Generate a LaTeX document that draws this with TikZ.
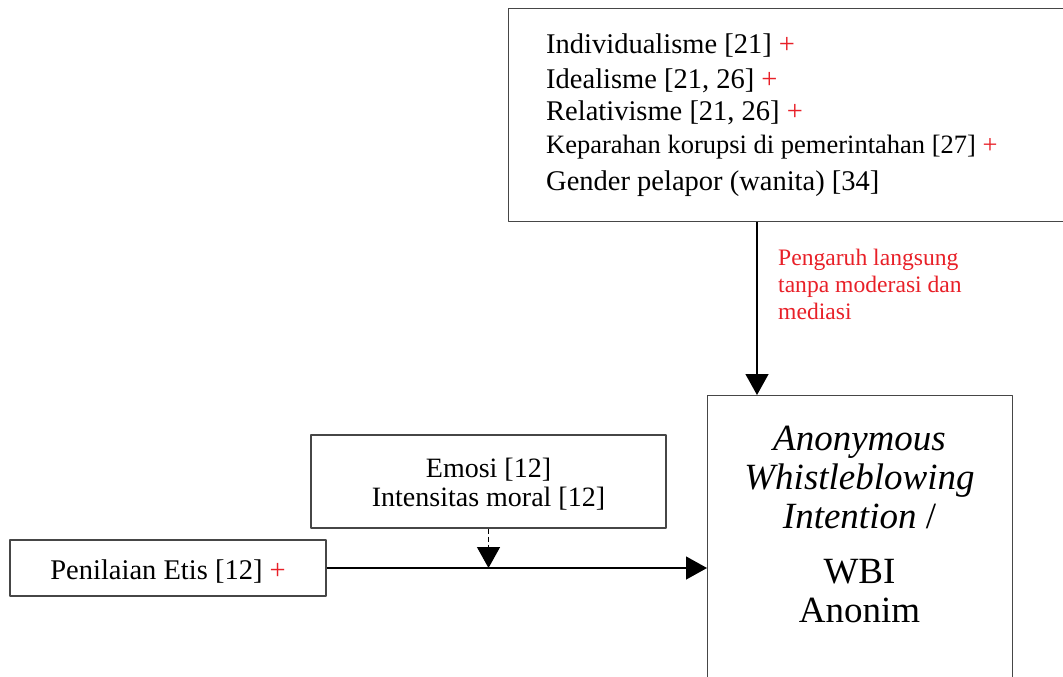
\documentclass[tikz,border=0pt]{standalone}
\usepackage{fontspec}
\setmainfont{Liberation Serif}
\usetikzlibrary{arrows.meta}
\definecolor{plusred}{RGB}{232,32,40}
\definecolor{boxgray}{RGB}{70,70,70}
\newcommand{\plus}{\textcolor{plusred}{+}}

\begin{document}
\begin{tikzpicture}[x=1pt, y=-1pt, line join=round,
	kotak/.style={draw=boxgray, line width=1.4pt, inner sep=0pt},
	teks/.style={inner sep=0pt, align=#1},
	teks/.default=center,
	panah/.style={line width=1.3pt, -{Triangle[width=23pt,length=21pt]}}]
	\clip (0,0) rectangle (1063,677);
	% kotak-kotak
	\node[kotak, anchor=north west, minimum width=590pt, minimum height=213pt] (faktor) at (508,8) {};
	\node[kotak, anchor=north west, minimum width=305pt, minimum height=346pt] (wbi) at (707,395) {};
	\node[kotak, minimum width=355pt, minimum height=93pt] (emosi) at (488.5,481.5) {};
	\node[kotak, minimum width=316pt, minimum height=56pt] (penilaian) at (168,568) {};
	% isi (base = garis dasar baris terakhir)
	\node[teks=left, anchor=base west, font=\fontsize{28.5}{33}\selectfont] (daftar) at (546,190)
		{Individualisme [21] \plus\\[2pt]
		Idealisme [21, 26] \plus\\[-1pt]
		Relativisme [21, 26] \plus\\
		{\fontsize{26.5}{33}\selectfont Keparahan korupsi di pemerintahan [27] \plus}\\[4pt]
		Gender pelapor (wanita) [34]};
	\node[teks=left, anchor=base west, text=plusred, font=\fontsize{23.6}{27}\selectfont] (catatan) at (778,319)
		{Pengaruh langsung\\ tanpa moderasi dan\\ mediasi};
	\node[teks, anchor=base, font=\fontsize{37}{39}\selectfont] (wbiteks) at (859.5,622)
		{\textit{Anonymous}\\ \textit{Whistleblowing}\\ \textit{Intention} /\\[16pt] WBI\\ Anonim};
	\node[teks, anchor=base, font=\fontsize{28}{29}\selectfont] (emositeks) at (488.5,506)
		{Emosi [12]\\ Intensitas moral [12]};
	\node[teks, anchor=base, font=\fontsize{28.5}{28}\selectfont] (penilaianteks) at (168,579)
		{Penilaian Etis [12] \plus};
	% panah
	\draw[panah] ([xshift=249pt]faktor.south west) -- ([xshift=50pt]wbi.north west);
	\draw[panah] (penilaian.east) -- (wbi.west |- penilaian.east);
	\draw[panah, dash pattern=on 5pt off 3pt] (emosi.south) -- (emosi.south |- penilaian.east);
\end{tikzpicture}
\end{document}
